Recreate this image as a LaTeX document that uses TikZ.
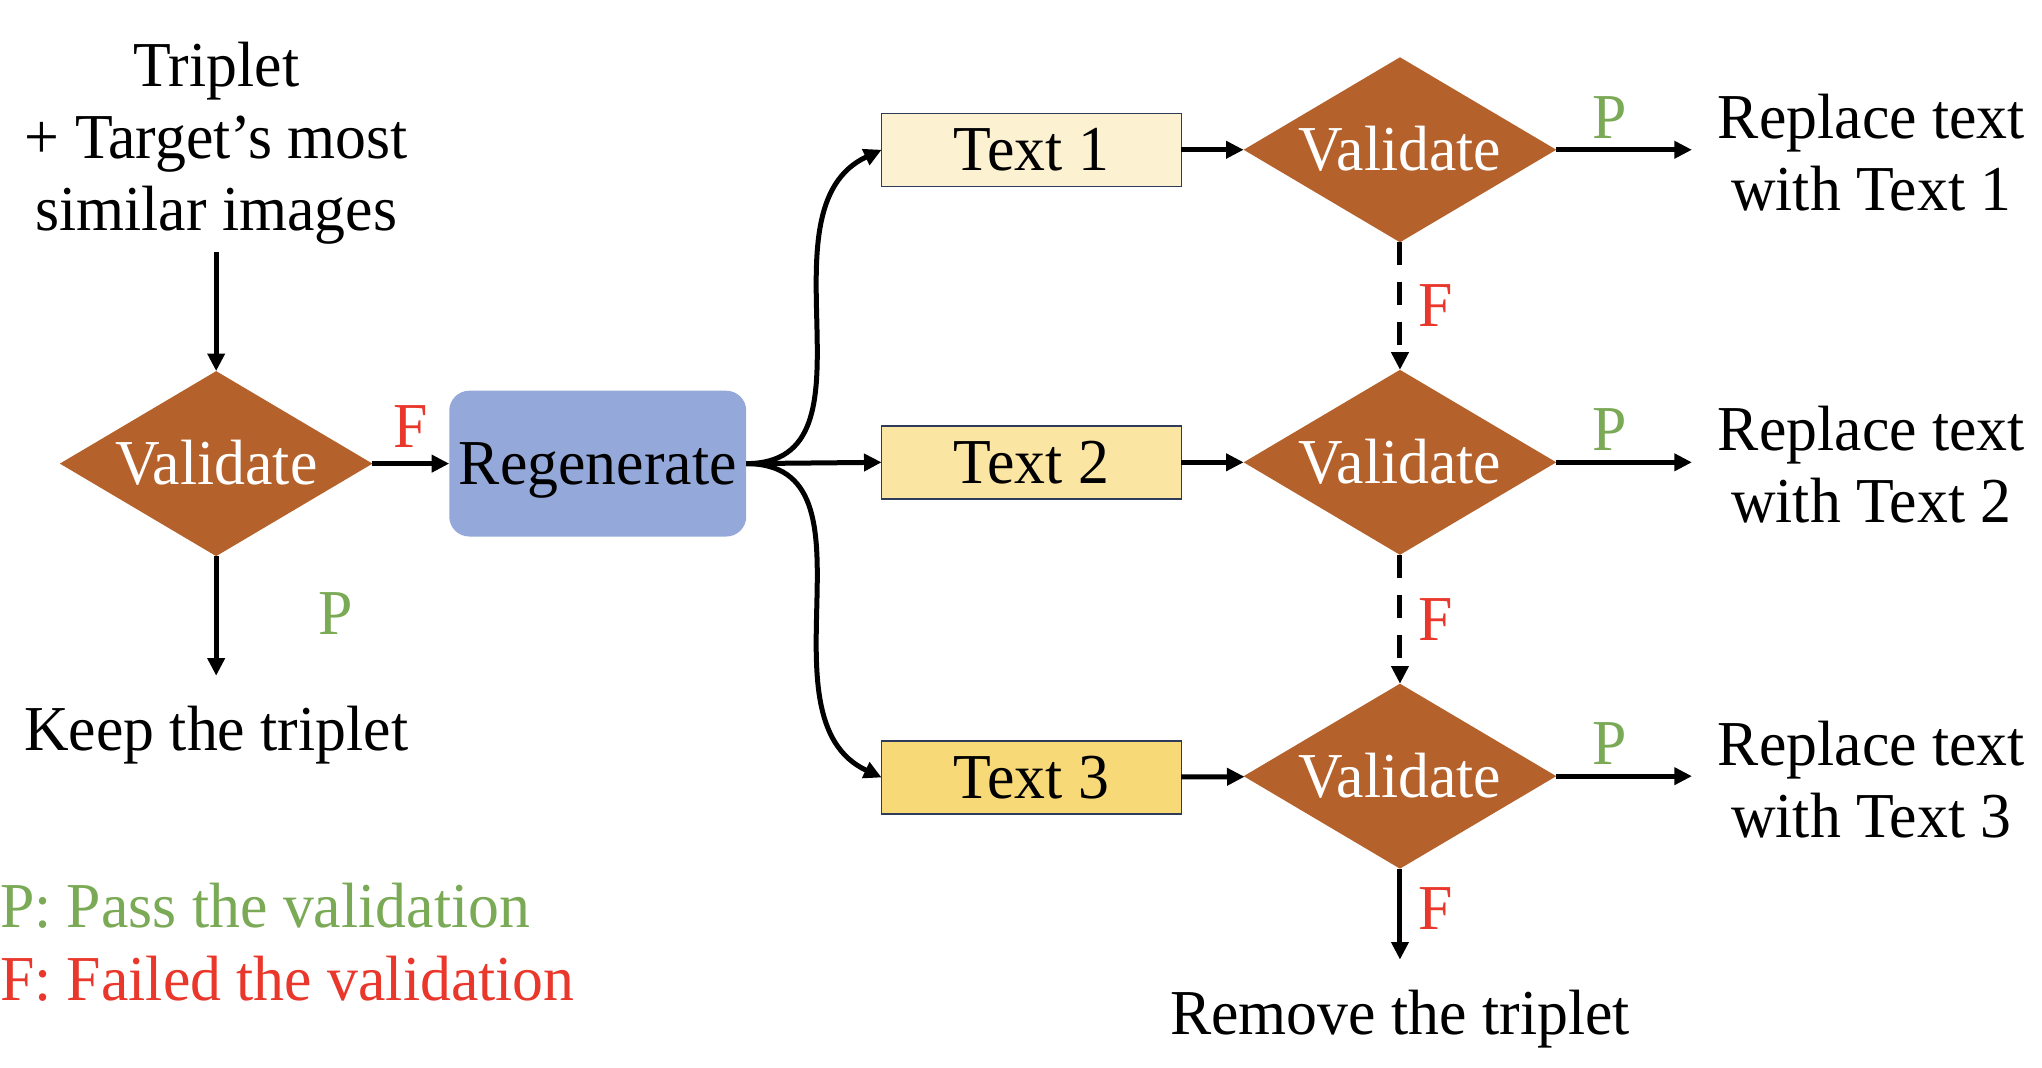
\documentclass[tikz,border=0pt]{standalone}
\usepackage{fontspec}
\setmainfont{Liberation Serif}[FakeStretch=0.965]
\usetikzlibrary{shapes.geometric,arrows.meta}
\definecolor{vbrown}{HTML}{B5612C}
\definecolor{vblue}{HTML}{94A9D9}
\definecolor{tone}{HTML}{FCF1D0}
\definecolor{ttwo}{HTML}{FAE5A2}
\definecolor{tthree}{HTML}{F7D978}
\definecolor{vborder}{HTML}{2E3B5A}
\definecolor{vgreen}{HTML}{7BAA56}
\definecolor{vred}{HTML}{E9372B}
\tikzset{
  txt/.style={inner sep=0pt, outer sep=0pt},
  capbox/.style={text height=21.2pt, text depth=0pt},
  valid/.style={diamond, aspect=1.69, fill=vbrown, text=white, inner sep=0pt, outer sep=0pt,
    minimum width=156.3pt, minimum height=92.5pt, capbox},
  regen/.style={rectangle, rounded corners=10pt, fill=vblue, inner sep=0pt, outer sep=0pt,
    minimum width=148.5pt, minimum height=72.9pt, capbox},
  tbox/.style={rectangle, draw=vborder, line width=0.7pt, inner sep=0pt, outer sep=0pt,
    minimum width=149.8pt, minimum height=36.5pt, capbox},
  arr/.style={-{Triangle[length=8.8pt,width=8.4pt]}, line width=2.5pt},
  dsh/.style={dash pattern=on 11.5pt off 8.5pt},
  plbl/.style={inner sep=0pt, text=vgreen},
  flbl/.style={inner sep=0pt, text=vred}
}
\begin{document}
\begin{tikzpicture}[x=0.6512pt, y=-0.6512pt, font=\fontsize{32}{36}\selectfont]
\fill[white] (0,0) rectangle (1568,820);
\useasboundingbox (0,0) rectangle (1568,820);

% nodes
\node[txt, align=center] (src) at (166,110) {Triplet\\+ Target’s most\\similar images};
\node[valid] (v0) at (166,356) {Validate};
\node[regen] (reg) at (459,356) {Regenerate};
\node[txt, anchor=base] (keep) at (166,576) {Keep the triplet};

\node[tbox, fill=tone] (t1) at (792,115) {Text 1};
\node[tbox, fill=ttwo] (t2) at (792,355) {Text 2};
\node[tbox, fill=tthree] (t3) at (792,597) {Text 3};

\node[valid] (v1) at (1075,115) {Validate};
\node[valid] (v2) at (1075,355) {Validate};
\node[valid] (v3) at (1075,596) {Validate};

\node[txt, align=center] (r1) at (1437,117) {Replace text\\with Text 1};
\node[txt, align=center] (r2) at (1437,357) {Replace text\\with Text 2};
\node[txt, align=center] (r3) at (1437,599) {Replace text\\with Text 3};

\node[txt, anchor=base] (rm) at (1075,794) {Remove the triplet};

\node[txt, anchor=base west, text=vgreen] (lp) at (0,712) {P: Pass the validation};
\node[txt, anchor=base west, text=vred] (lf) at (0,768) {F: Failed the validation};

% connectors
\draw[arr, shorten <=4pt] (src) -- (v0.north);
\draw[arr] (v0.east) -- node[flbl, above=7pt] {F} (reg.west);
\draw[arr, shorten >=15pt] (v0.south) -- node[plbl, pos=0.385, right=50pt] {P} (keep.north);

\draw[arr] (reg.east) to[out=0, in=205, looseness=1.05] (t1.west);
\draw[arr] (reg.east) -- (t2.west);
\draw[arr] (reg.east) to[out=0, in=155, looseness=1.05] (t3.west);

\draw[arr] (t1) -- (v1);
\draw[arr] (t2) -- (v2);
\draw[arr] (t3) -- (v3);

\draw[arr, shorten >=13pt] (v1.east) -- node[plbl, pos=0.33, above=4.5pt] {P} (v1.east -| r1.west);
\draw[arr, shorten >=13pt] (v2.east) -- node[plbl, pos=0.33, above=4.5pt] {P} (v2.east -| r2.west);
\draw[arr, shorten >=13pt] (v3.east) -- node[plbl, pos=0.33, above=4.5pt] {P} (v3.east -| r3.west);

\draw[arr, dsh] (v1.south) -- node[flbl, right=8pt] {F} (v2.north);
\draw[arr, dsh] (v2.south) -- node[flbl, right=8pt] {F} (v3.north);
\draw[arr, shorten >=15pt] (v3.south) -- node[flbl, pos=0.33, right=8pt] {F} (rm.north);
\end{tikzpicture}
\end{document}
